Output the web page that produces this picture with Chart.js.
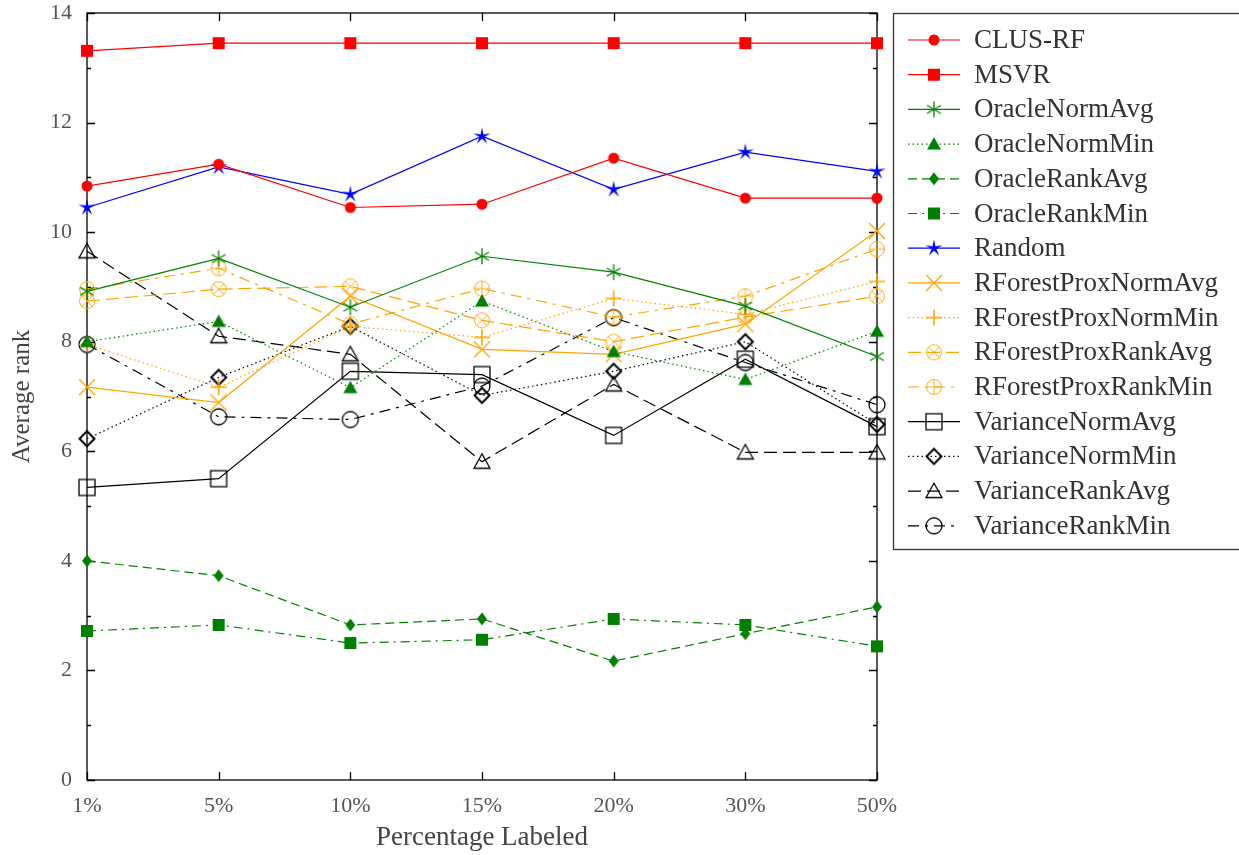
<html>
<head>
    <title>Average rank</title>
    <style>
        body { margin: 0; background: #fff; }
    </style>
</head>
<body>
<canvas id="rankChart" width="1239" height="855"></canvas>

<script src="https://cdn.jsdelivr.net/npm/chart.js"></script>

<script>
    const categories = ['1%', '5%', '10%', '15%', '20%', '30%', '50%']

    const clusRF = [10.84, 11.24, 10.45, 10.51, 11.35, 10.62, 10.62]
    const msvr = [13.31, 13.45, 13.45, 13.45, 13.45, 13.45, 13.45]
    const oracleNormAvg = [8.92, 9.52, 8.63, 9.56, 9.27, 8.65, 7.73]
    const oracleNormMin = [8.0, 8.37, 7.16, 8.74, 7.82, 7.31, 8.19]
    const oracleRankAvg = [4.0, 3.73, 2.83, 2.94, 2.17, 2.67, 3.16]
    const oracleRankMin = [2.72, 2.83, 2.50, 2.56, 2.94, 2.83, 2.44]
    const random = [10.45, 11.19, 10.69, 11.75, 10.78, 11.46, 11.11]
    const rfNormAvg = [7.17, 6.89, 8.83, 7.86, 7.77, 8.32, 10.02]
    const rfNormMin = [7.95, 7.17, 8.28, 8.08, 8.79, 8.50, 9.10]
    const rfRankAvg = [8.74, 8.96, 9.01, 8.39, 8.0, 8.45, 8.83]
    const rfRankMin = [8.96, 9.34, 8.32, 8.97, 8.45, 8.83, 9.69]
    const varNormAvg = [5.34, 5.50, 7.46, 7.40, 6.29, 7.68, 6.45]
    const varNormMin = [6.23, 7.35, 8.28, 7.02, 7.46, 8.0, 6.49]
    const varRankAvg = [9.65, 8.1, 7.77, 5.81, 7.22, 5.98, 5.98]
    const varRankMin = [7.95, 6.63, 6.58, 7.19, 8.44, 7.62, 6.85]

    const yTicks = [0, 2, 4, 6, 8, 10, 12, 14]

    const RED = '#ff0000', GREEN = '#008000', BLUE = '#0000ff', ORANGE = '#ffa500', BLACK = '#000000'
    const FONT = '"Liberation Serif", "Times New Roman", serif'

    // marker images (gnuplot-like point types)
    function marker(kind, color) {
        const c = document.createElement('canvas')
        c.width = 26; c.height = 26
        const g = c.getContext('2d')
        g.translate(13, 13)
        g.strokeStyle = color
        g.fillStyle = color
        g.lineWidth = 1.3
        g.beginPath()
        if (kind === 'circleFill') {
            g.arc(0, 0, 5.5, 0, Math.PI * 2); g.fill()
        } else if (kind === 'squareFill') {
            g.fillRect(-6, -6, 12, 12)
        } else if (kind === 'asterisk') {
            for (const a of [90, 30, 150]) {
                const r = a * Math.PI / 180
                g.moveTo(-8 * Math.cos(r), -8 * Math.sin(r)); g.lineTo(8 * Math.cos(r), 8 * Math.sin(r))
            }
            g.stroke()
        } else if (kind === 'triangleFill') {
            g.moveTo(0, -7); g.lineTo(7, 5.5); g.lineTo(-7, 5.5); g.closePath(); g.fill()
        } else if (kind === 'diamondFill') {
            g.moveTo(0, -6.5); g.lineTo(5, 0); g.lineTo(0, 6.5); g.lineTo(-5, 0); g.closePath(); g.fill()
        } else if (kind === 'star5') {
            for (let i = 0; i < 10; i++) {
                const r = i % 2 ? 2.4 : 9
                const a = -Math.PI / 2 + i * Math.PI / 5
                if (i === 0) g.moveTo(r * Math.cos(a), r * Math.sin(a)); else g.lineTo(r * Math.cos(a), r * Math.sin(a))
            }
            g.closePath(); g.fill()
        } else if (kind === 'xcross') {
            g.moveTo(-8, -8); g.lineTo(8, 8); g.moveTo(8, -8); g.lineTo(-8, 8); g.stroke()
        } else if (kind === 'plus') {
            g.lineWidth = 1.6
            g.moveTo(-8, 0); g.lineTo(8, 0); g.moveTo(0, -8); g.lineTo(0, 8); g.stroke()
        } else if (kind === 'otimes' || kind === 'oplus') {
            g.lineWidth = 0.9
            g.arc(0, 0, 7.5, 0, Math.PI * 2); g.stroke()
            g.beginPath()
            if (kind === 'otimes') {
                g.moveTo(-5.3, -5.3); g.lineTo(5.3, 5.3); g.moveTo(5.3, -5.3); g.lineTo(-5.3, 5.3)
            } else {
                g.moveTo(-7.5, 0); g.lineTo(7.5, 0); g.moveTo(0, -7.5); g.lineTo(0, 7.5)
            }
            g.stroke()
        } else if (kind === 'square') {
            g.strokeRect(-8, -8, 16, 16)
        } else if (kind === 'diamond') {
            g.lineWidth = 2
            g.moveTo(0, -7.5); g.lineTo(7.5, 0); g.lineTo(0, 7.5); g.lineTo(-7.5, 0); g.closePath(); g.stroke()
        } else if (kind === 'triangle') {
            g.moveTo(0, -8); g.lineTo(8, 6.5); g.lineTo(-8, 6.5); g.closePath(); g.stroke()
        } else if (kind === 'circle') {
            g.arc(0, 0, 8, 0, Math.PI * 2); g.stroke()
        }
        return c
    }

    const DOT = [1.5, 3], DASH = [9, 5], DASHDOT = [9, 5, 2, 5], LDASH = [13, 6], LDASHDOT = [11, 6, 3, 6]

    function series(label, data, color, kind, dash) {
        return {
            label: label,
            data: data,
            borderColor: color,
            backgroundColor: color,
            borderWidth: 1.2,
            borderDash: dash,
            pointStyle: marker(kind, color),
            pointRadius: 9,
            pointHoverRadius: 9,
            tension: 0,
            clip: false
        }
    }

    const datasets = [
        series('CLUS-RF', clusRF, RED, 'circleFill', []),
        series('MSVR', msvr, RED, 'squareFill', []),
        series('OracleNormAvg', oracleNormAvg, GREEN, 'asterisk', []),
        series('OracleNormMin', oracleNormMin, GREEN, 'triangleFill', DOT),
        series('OracleRankAvg', oracleRankAvg, GREEN, 'diamondFill', DASH),
        series('OracleRankMin', oracleRankMin, GREEN, 'squareFill', DASHDOT),
        series('Random', random, BLUE, 'star5', []),
        series('RForestProxNormAvg', rfNormAvg, ORANGE, 'xcross', []),
        series('RForestProxNormMin', rfNormMin, ORANGE, 'plus', DOT),
        series('RForestProxRankAvg', rfRankAvg, ORANGE, 'otimes', LDASH),
        series('RForestProxRankMin', rfRankMin, ORANGE, 'oplus', LDASHDOT),
        series('VarianceNormAvg', varNormAvg, BLACK, 'square', []),
        series('VarianceNormMin', varNormMin, BLACK, 'diamond', DOT),
        series('VarianceRankAvg', varRankAvg, BLACK, 'triangle', LDASH),
        series('VarianceRankMin', varRankMin, BLACK, 'circle', LDASHDOT)
    ]

    // border box with inward ticks on all four sides
    const frame = {
        id: 'frame',
        beforeDatasetsDraw(chart) {
            const ctx = chart.ctx
            const a = chart.chartArea
            const x = chart.scales.x, y = chart.scales.y
            ctx.save()
            ctx.strokeStyle = '#000'
            ctx.lineWidth = 1.3
            ctx.strokeRect(a.left, a.top, a.right - a.left, a.bottom - a.top)
            ctx.beginPath()
            for (let v = y.min; v <= y.max; v++) {
                const py = Math.round(y.getPixelForValue(v)) + 0.5
                const len = v % 2 === 0 ? 8 : 4
                ctx.moveTo(a.left, py); ctx.lineTo(a.left + len, py)
                ctx.moveTo(a.right, py); ctx.lineTo(a.right - len, py)
            }
            categories.forEach((c, i) => {
                const px = Math.round(x.getPixelForValue(i)) + 0.5
                ctx.moveTo(px, a.bottom); ctx.lineTo(px, a.bottom - 8)
                ctx.moveTo(px, a.top); ctx.lineTo(px, a.top + 8)
            })
            ctx.stroke()
            ctx.restore()
        }
    }

    // boxed legend on the right: line sample + marker + name
    const boxLegend = {
        id: 'boxLegend',
        afterDraw(chart) {
            const ctx = chart.ctx
            const left = 893, top = 13, bottom = 549
            ctx.save()
            ctx.strokeStyle = '#333'
            ctx.lineWidth = 1.3
            ctx.strokeRect(left + 0.5, top + 0.5, 500, bottom - top)
            ctx.font = '27px ' + FONT
            ctx.fillStyle = '#333'
            ctx.textBaseline = 'middle'
            chart.data.datasets.forEach((ds, i) => {
                const cy = 40 + i * 34.7
                ctx.beginPath()
                ctx.strokeStyle = ds.borderColor
                ctx.lineWidth = ds.borderWidth
                ctx.setLineDash(ds.borderDash)
                ctx.moveTo(908, cy); ctx.lineTo(960, cy)
                ctx.stroke()
                ctx.setLineDash([])
                ctx.drawImage(ds.pointStyle, 934 - 13, cy - 13)
                ctx.fillText(ds.label, 974, cy + 1)
            })
            ctx.restore()
        }
    }

    new Chart(document.getElementById('rankChart'), {
        type: 'line',
        data: {
            labels: categories,
            datasets: datasets
        },
        plugins: [frame, boxLegend],
        options: {
            responsive: false,
            animation: false,
            devicePixelRatio: 1,
            layout: {
                padding: { left: 0, top: 13, right: 362, bottom: 0 }
            },
            plugins: {
                legend: { display: false },
                tooltip: { enabled: false }
            },
            scales: {
                x: {
                    type: 'category',
                    offset: false,
                    grid: { display: false, drawTicks: false },
                    border: { display: false },
                    ticks: {
                        padding: 13,
                        color: '#555',
                        font: { family: FONT, size: 22 },
                        maxRotation: 0
                    },
                    title: {
                        display: true,
                        text: 'Percentage Labeled',
                        color: '#444',
                        font: { family: FONT, size: 27 },
                        padding: { top: 0, bottom: 1 }
                    },
                    afterFit(scale) { scale.height = 75 }
                },
                y: {
                    min: 0,
                    max: 14,
                    afterBuildTicks(scale) { scale.ticks = yTicks.map(v => ({ value: v })) },
                    grid: { display: false, drawTicks: false },
                    border: { display: false },
                    ticks: {
                        padding: 15,
                        color: '#555',
                        font: { family: FONT, size: 22 }
                    },
                    title: {
                        display: true,
                        text: 'Average rank',
                        color: '#444',
                        font: { family: FONT, size: 25 },
                        padding: { top: 7, bottom: 0 }
                    },
                    afterFit(scale) {
                        scale.width = 87
                        scale.paddingTop = 0
                        scale.paddingBottom = 0
                    }
                }
            }
        }
    });
</script>
</body>
</html>
